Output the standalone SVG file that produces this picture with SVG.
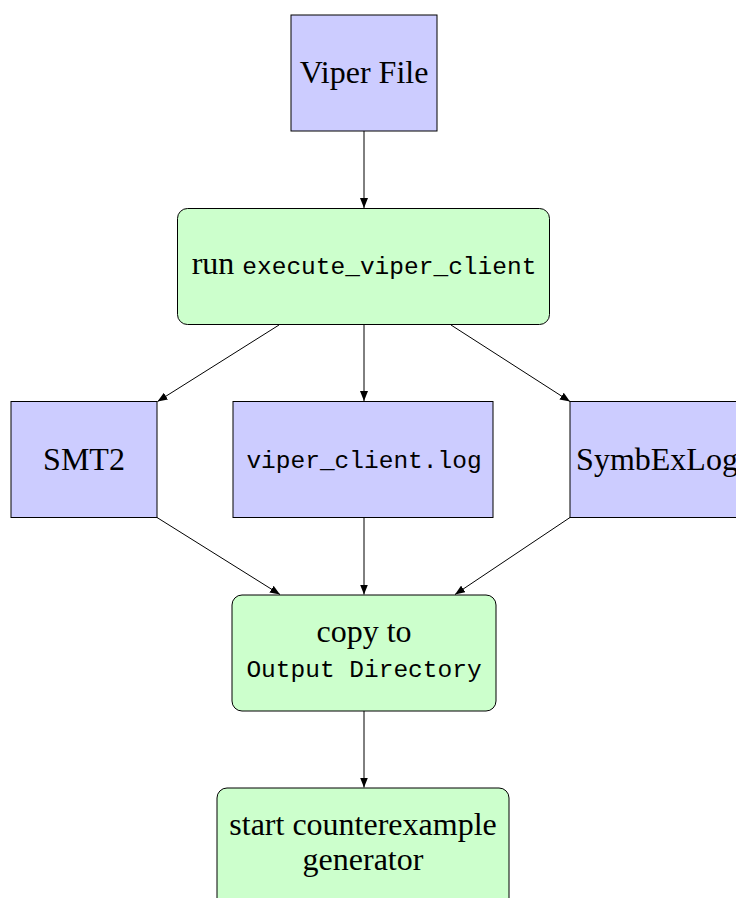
<svg xmlns="http://www.w3.org/2000/svg" width="736" height="898" viewBox="0 0 736 898">
  <defs>
    <marker id="tip" viewBox="0 0 10 8" refX="10" refY="4" markerWidth="10" markerHeight="8" markerUnits="userSpaceOnUse" orient="auto">
      <path d="M0,0 L10,4 L0,8 z" fill="#000"/>
    </marker>
    <style>
      .file { fill: #ccccff; stroke: #000; stroke-width: 1; }
      .step { fill: #ccffcc; stroke: #000; stroke-width: 1; }
      .serif { font-family: "Liberation Serif", "DejaVu Serif", serif; font-size: 32px; fill: #000; text-anchor: middle; }
      .mono { font-family: "Liberation Mono", "DejaVu Sans Mono", monospace; font-size: 24.5px; fill: #000; }
      .edge { stroke: #000; stroke-width: 1; fill: none; marker-end: url(#tip); }
    </style>
  </defs>
  <rect width="736" height="898" fill="#fff"/>

  <g id="viper-file">
    <rect class="file" x="291" y="15" width="146" height="116"/>
    <text class="serif" x="364" y="83">Viper File</text>
  </g>

  <g id="run-client">
    <rect class="step" x="177.5" y="208.5" width="372" height="116" rx="10" ry="10"/>
    <text class="serif" x="364" y="274"><tspan>run </tspan><tspan class="mono">execute_viper_client</tspan></text>
  </g>

  <g id="smt2">
    <rect class="file" x="11" y="401.5" width="146" height="116"/>
    <text class="serif" x="84" y="470">SMT2</text>
  </g>

  <g id="client-log">
    <rect class="file" x="233" y="401.5" width="260" height="116"/>
    <text class="mono" x="364" y="468" text-anchor="middle">viper_client.log</text>
  </g>

  <g id="symbexlog">
    <rect class="file" x="570" y="401.5" width="190" height="116"/>
    <text class="serif" x="657" y="470">SymbExLog</text>
  </g>

  <g id="copy-output">
    <rect class="step" x="232" y="595" width="264" height="116" rx="10" ry="10"/>
    <text class="serif" x="364" y="642">copy to</text>
    <text class="mono" x="364" y="677" text-anchor="middle">Output Directory</text>
  </g>

  <g id="start-generator">
    <rect class="step" x="217" y="788" width="292" height="130" rx="10" ry="10"/>
    <text class="serif" x="363" y="835">start counterexample</text>
    <text class="serif" x="363" y="870">generator</text>
  </g>

  <g id="connectors">
    <line class="edge" x1="364" y1="131" x2="364" y2="208"/>
    <line class="edge" x1="279" y1="325" x2="157.5" y2="401.5"/>
    <line class="edge" x1="364" y1="325" x2="364" y2="401"/>
    <line class="edge" x1="451" y1="325" x2="570" y2="401.5"/>
    <line class="edge" x1="157" y1="517.5" x2="280" y2="594.5"/>
    <line class="edge" x1="364" y1="517.5" x2="364" y2="594.5"/>
    <line class="edge" x1="570" y1="517.5" x2="455" y2="594.5"/>
    <line class="edge" x1="364" y1="711" x2="364" y2="787.5"/>
  </g>
</svg>
